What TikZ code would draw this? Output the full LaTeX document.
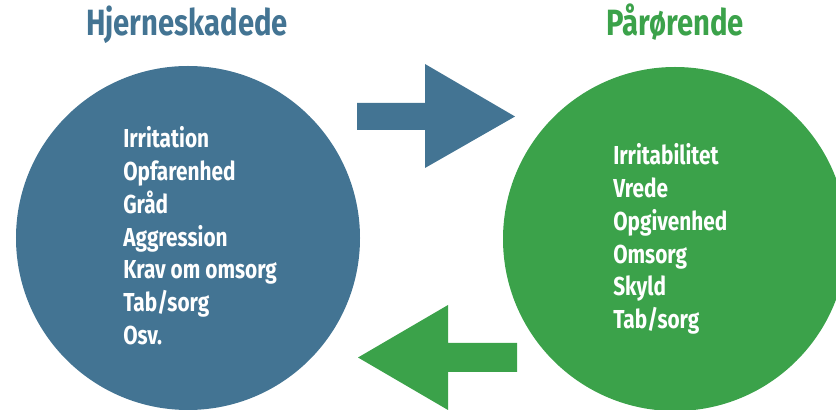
\documentclass[tikz,border=0pt]{standalone}
\usepackage{fontspec}
\setmainfont[FakeStretch=0.8]{Fira Sans}
\definecolor{hjblue}{HTML}{437493}
\definecolor{pagreen}{HTML}{3BA24A}
\begin{document}
\begin{tikzpicture}[
    titletext/.style={font=\bfseries\fontsize{26}{30}\selectfont, anchor=base},
    listtext/.style={font=\bfseries\fontsize{18.5}{22}\selectfont, text=white, anchor=base west, inner sep=0pt}
]
        \clip (0,0) rectangle (20.9,10.25);

        % the two circles
        \fill[hjblue] (4.7,4.3) circle (4.3);
        \fill[pagreen] (16.875,4.275) circle (4.3);

        \node[titletext, text=hjblue] (hjtitle) at (4.675,9.36) {Hjerneskadede};
        \node[titletext, text=pagreen] (patitle) at (16.875,9.36) {Pårørende};

        % block arrows
        \fill[hjblue] (8.925,7.675)--(10.625,7.675)--(10.625,8.65)--(12.875,7.3375)--(10.625,6.05)--(10.625,7.0)--(8.925,7.0)--cycle;
        \fill[pagreen] (12.925,1.675)--(11.2,1.675)--(11.2,2.625)--(8.95,1.3125)--(11.2,0)--(11.2,0.95)--(12.925,0.95)--cycle;

        \foreach \txt [count=\i from 0] in {Irritation, Opfarenhed, Gråd, Aggression, Krav om omsorg, Tab/sorg, Osv.}
            \node[listtext] (hj\i) at (3.075, 6.55-0.8175*\i) {\txt};

        \foreach \txt [count=\i from 0] in {Irritabilitet, Vrede, Opgivenhed, Omsorg, Skyld, Tab/sorg}
            \node[listtext] (pa\i) at (15.325, 6.125-0.8175*\i) {\txt};
\end{tikzpicture}
\end{document}
